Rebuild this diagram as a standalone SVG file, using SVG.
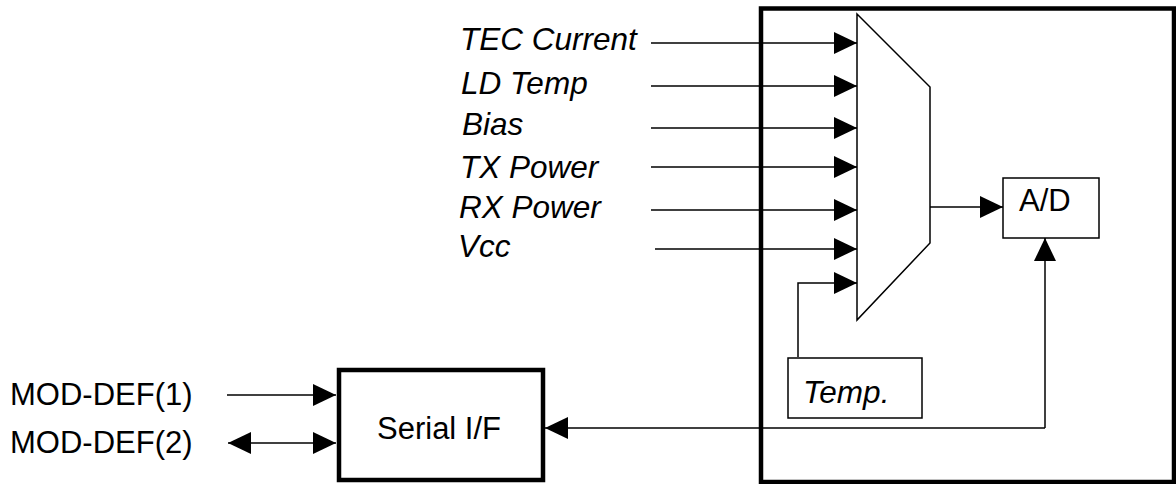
<svg xmlns="http://www.w3.org/2000/svg" width="1176" height="484" viewBox="0 0 1176 484">
<style>
.t{font-family:"Liberation Sans",Arial,sans-serif;font-size:31px;fill:#000}
.i{font-style:italic;font-size:31.5px}
.thin{fill:none;stroke:#000;stroke-width:1.5}
.thick{fill:#fff;stroke:#000;stroke-width:4.5}
.box{fill:#fff;stroke:#000;stroke-width:1.5}
.c{fill:none;stroke:#000;stroke-width:1.5;marker-end:url(#ah)}
</style>
<defs>
<marker id="ah" markerUnits="userSpaceOnUse" markerWidth="24" markerHeight="23" refX="23" refY="11" orient="auto-start-reverse" viewBox="0 0 24 23">
<path d="M0,0 L23,11 L0,22 z" fill="#000"/>
</marker>
</defs>
<rect width="1176" height="484" fill="#fff"/>
<g id="module">
<rect class="thick" x="761" y="8.5" width="413" height="473.5" fill="none"/>
</g>
<g id="mux">
<polygon class="box" points="857,14 930,87 930,243 857,320"/>
</g>
<g id="ad">
<rect class="box" x="1003" y="178" width="96" height="60"/>
<text class="t" x="1019" y="211">A/D</text>
</g>
<g id="temp">
<rect class="box" x="788" y="358" width="134" height="60"/>
<text class="t i" x="803" y="403">Temp.</text>
</g>
<g id="serial">
<rect class="thick" x="339" y="370" width="204" height="110"/>
<text class="t" x="377" y="439">Serial I/F</text>
</g>
<g id="labels">
<text class="t i" x="460" y="50">TEC Current</text>
<text class="t i" x="461" y="94">LD Temp</text>
<text class="t i" x="462" y="135">Bias</text>
<text class="t i" x="460" y="178">TX Power</text>
<text class="t i" x="459" y="218">RX Power</text>
<text class="t i" x="458" y="257">Vcc</text>
<text class="t" x="10" y="405">MOD-DEF(1)</text>
<text class="t" x="10" y="453">MOD-DEF(2)</text>
</g>
<g id="connectors">
<line class="c" x1="651" y1="43" x2="857" y2="43"/>
<line class="c" x1="651" y1="86" x2="857" y2="86"/>
<line class="c" x1="651" y1="128" x2="857" y2="128"/>
<line class="c" x1="651" y1="167" x2="857" y2="167"/>
<line class="c" x1="651" y1="210" x2="857" y2="210"/>
<line class="c" x1="655" y1="249" x2="857" y2="249"/>
<polyline class="c" points="798,357 798,283 857,283"/>
<line class="c" x1="930" y1="207" x2="1003" y2="207"/>
<polyline class="c" points="1045,428 1045,238"/>
<line class="c" x1="1045" y1="428" x2="545" y2="428"/>
<line class="c" x1="227" y1="395" x2="336" y2="395"/>
<line class="c" x1="228" y1="443" x2="336" y2="443" style="marker-start:url(#ah)"/>
</g>
</svg>
